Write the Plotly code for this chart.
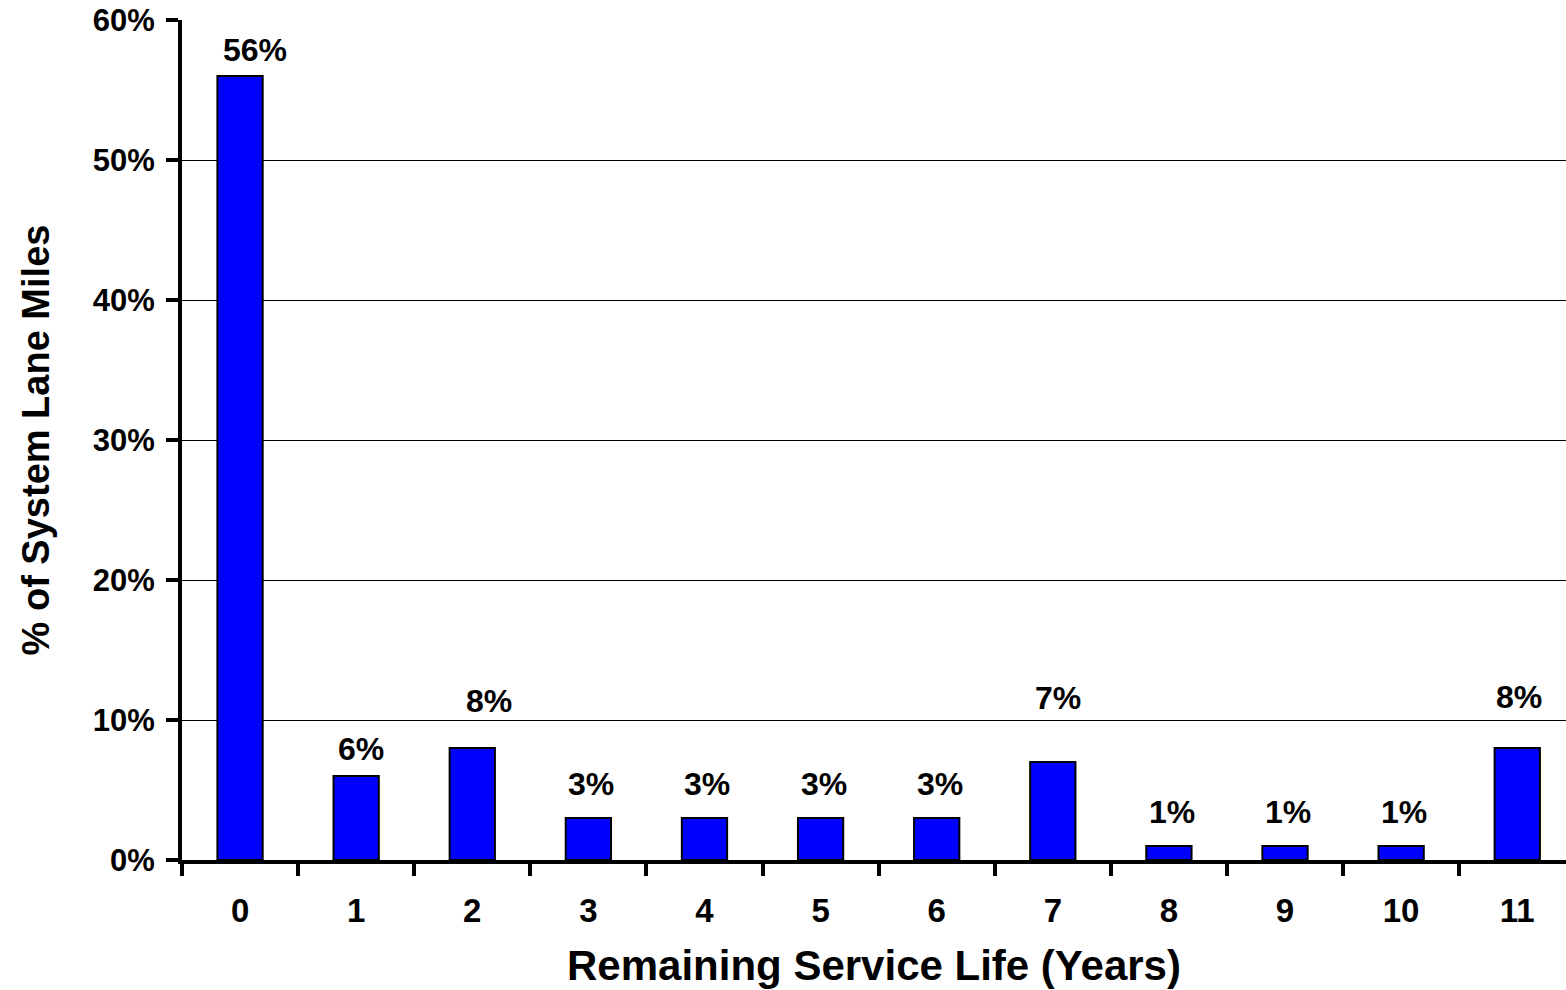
import plotly.graph_objects as go

# Remaining service life distribution
years = ["0", "1", "2", "3", "4", "5", "6", "7", "8", "9", "10", "11"]
share_pct = [56, 6, 8, 3, 3, 3, 3, 7, 1, 1, 1, 8]
y_ticks = [0, 10, 20, 30, 40, 50, 60]
y_tick_text = ["0%", "10%", "20%", "30%", "40%", "50%", "60%"]

# per-label nudges (pixels) for the value labels above the bars
label_lift = [26, 27, 47, 34, 34, 34, 34, 64, 34, 34, 34, 51]
label_nudge = [15, 5, 17, 3, 3, 3, 3, 5, 3, 3, 3, 2]

FONT = "Liberation Sans, Arial, sans-serif"

fig = go.Figure(
    go.Bar(
        x=years,
        y=share_pct,
        width=0.39,
        marker=dict(color="#0000FF", line=dict(color="black", width=2)),
        hoverinfo="skip",
    )
)

for yr, v, lift, nudge in zip(years, share_pct, label_lift, label_nudge):
    fig.add_annotation(
        x=yr, y=v, text=f"<b>{v}%</b>", showarrow=False,
        yanchor="middle", yshift=lift, xshift=nudge,
        font=dict(family=FONT, size=32, color="black"),
    )

fig.update_layout(
    width=1566, height=990,
    margin=dict(l=182, r=0, t=20, b=130),
    paper_bgcolor="white", plot_bgcolor="white",
    showlegend=False,
    font=dict(family=FONT, color="black"),
    xaxis=dict(
        type="category",
        range=[-0.5, 11.42],
        showline=True, linecolor="black", linewidth=4,
        ticks="outside", tickson="boundaries", ticklen=12, tickwidth=4, tickcolor="black",
        tickfont=dict(family=FONT, size=33, color="black", weight="bold"),
        ticklabelstandoff=18,
        showgrid=False, zeroline=False,
        title=dict(text="<b>Remaining Service Life (Years)</b>",
                   font=dict(family=FONT, size=42, color="black"), standoff=24),
    ),
    yaxis=dict(
        range=[0, 60],
        tickvals=y_ticks, ticktext=y_tick_text,
        showline=True, linecolor="black", linewidth=4,
        ticks="outside", ticklen=12, tickwidth=4, tickcolor="black",
        tickfont=dict(family=FONT, size=31, color="black", weight="bold"),
        ticklabelstandoff=5,
        showgrid=True, gridcolor="black", gridwidth=1,
        zeroline=False,
        title=dict(text="<b>% of System Lane Miles</b>",
                   font=dict(family=FONT, size=38, color="black"), standoff=32),
    ),
)

fig.write_html("out.html")
